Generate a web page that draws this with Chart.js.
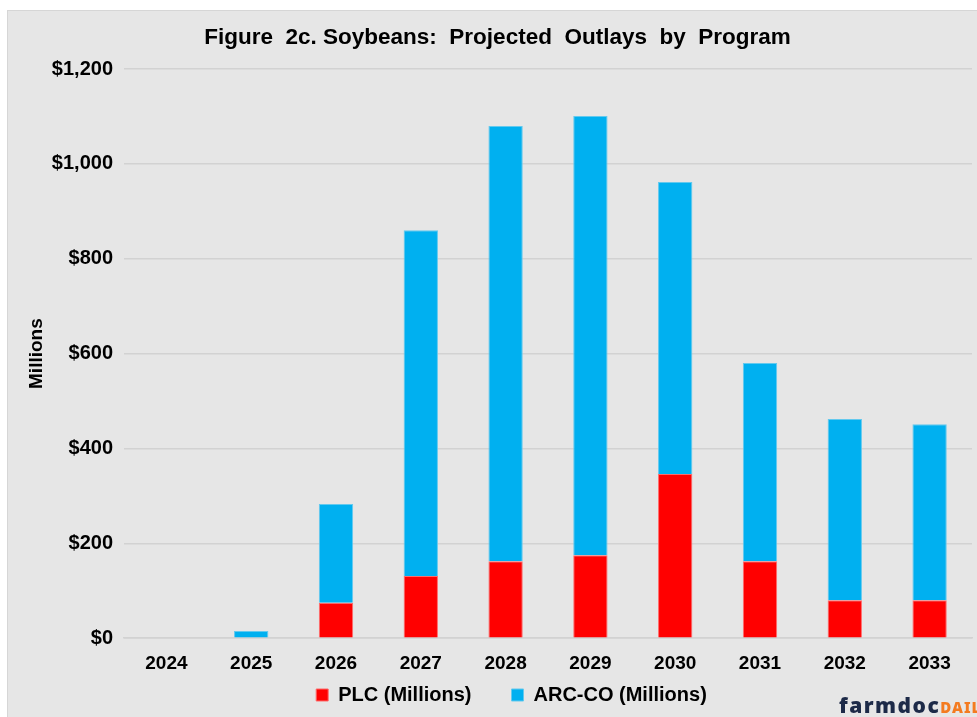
<!DOCTYPE html>
<html>
<head>
<meta charset="utf-8">
<script src="https://cdn.jsdelivr.net/npm/chart.js@4.4.0/dist/chart.umd.min.js"></script>
<style>
  html, body { margin: 0; padding: 0; background: #fff; }
  #frame {
    position: absolute; left: 7px; top: 10px; width: 970px; height: 707px;
    background: #e6e6e6; border-left: 1px solid #d6d6d6; border-top: 1px solid #d6d6d6;
    box-sizing: border-box;
  }
  #chart { position: absolute; left: 0; top: 0; }
  #logo {
    position: absolute; left: 831px; top: 680px; white-space: nowrap;
    font-family: "Noto Sans", sans-serif; font-weight: 900;
  }
  #logo .farm { color: #1d2a48; font-size: 21px; letter-spacing: 1.5px; }
  #logo .daily { color: #f47b20; font-size: 15px; letter-spacing: 1px; }
</style>
</head>
<body>
<div id="frame">
  <canvas id="chart" width="969" height="706"></canvas>
  <div id="logo"><span class="farm">farmdoc</span><span class="daily">DAILY</span></div>
</div>
<script>
const years = ['2024', '2025', '2026', '2027', '2028', '2029', '2030', '2031', '2032', '2033'];
const plc = [0, 0, 75, 131, 162, 175, 346, 162, 80, 80];
const arcCo = [0, 15, 208, 729, 918, 926, 616, 418, 382, 371];
const yTicks = [0, 200, 400, 600, 800, 1000, 1200];

const FONT = '"Liberation Sans", Arial, sans-serif';

Chart.defaults.font.family = FONT;
Chart.defaults.font.weight = 'bold';
Chart.defaults.color = '#000';

// legend sits closer to the axis labels than chart.js would put it
const legendNudge = {
  id: 'legendNudge',
  afterLayout(chart) {
    const l = chart.legend;
    if (!l) return;
    l.top = 634;
    l.bottom = chart.height;
    l.height = l.bottom - l.top;
    l.left += 14; l.right += 14;
  }
};

new Chart(document.getElementById('chart'), {
  type: 'bar',
  data: {
    labels: years,
    datasets: [
      { label: 'PLC (Millions)', data: plc, backgroundColor: '#ff0000', borderColor: '#ff6b6b', borderWidth: 1 },
      { label: 'ARC-CO (Millions)', data: arcCo, backgroundColor: '#00b0f0', borderColor: '#63c9ee', borderWidth: 1 }
    ]
  },
  plugins: [legendNudge],
  options: {
    responsive: false,
    animation: false,
    layout: { padding: { left: 15, right: 5, top: 0, bottom: 0 } },
    datasets: { bar: { categoryPercentage: 1, barPercentage: 0.405 } },
    plugins: {
      title: {
        display: true,
        text: 'Figure  2c. Soybeans:  Projected  Outlays  by  Program',
        font: { size: 22.5, weight: 'bold' },
        color: '#000',
        padding: { top: 13, bottom: 18 }
      },
      legend: {
        position: 'bottom',
        maxHeight: 28,
        labels: {
          boxWidth: 12, boxHeight: 12, padding: 40,
          font: { size: 20, weight: 'bold' }, color: '#000'
        }
      },
      tooltip: { enabled: false }
    },
    scales: {
      x: {
        stacked: true,
        grid: { display: false, drawTicks: false },
        border: { display: true, color: '#d2d2d2', width: 1.5 },
        ticks: { font: { size: 19, weight: 'bold' }, padding: 14, color: '#000' }
      },
      y: {
        stacked: true,
        min: 0, max: 1200,
        afterBuildTicks: (axis) => { axis.ticks = yTicks.map(v => ({ value: v })); },
        afterFit: (axis) => { axis.width = 101; },
        grid: { color: '#d2d2d2', lineWidth: 1.5, drawTicks: false },
        border: { display: false },
        title: { display: true, text: 'Millions', font: { size: 19, weight: 'bold' }, color: '#000', padding: { top: 2, bottom: 0 } },
        ticks: {
          font: { size: 20, weight: 'bold' }, padding: 11, color: '#000',
          callback: (v) => '$' + v.toLocaleString('en-US')
        }
      }
    }
  }
});
</script>
</body>
</html>
